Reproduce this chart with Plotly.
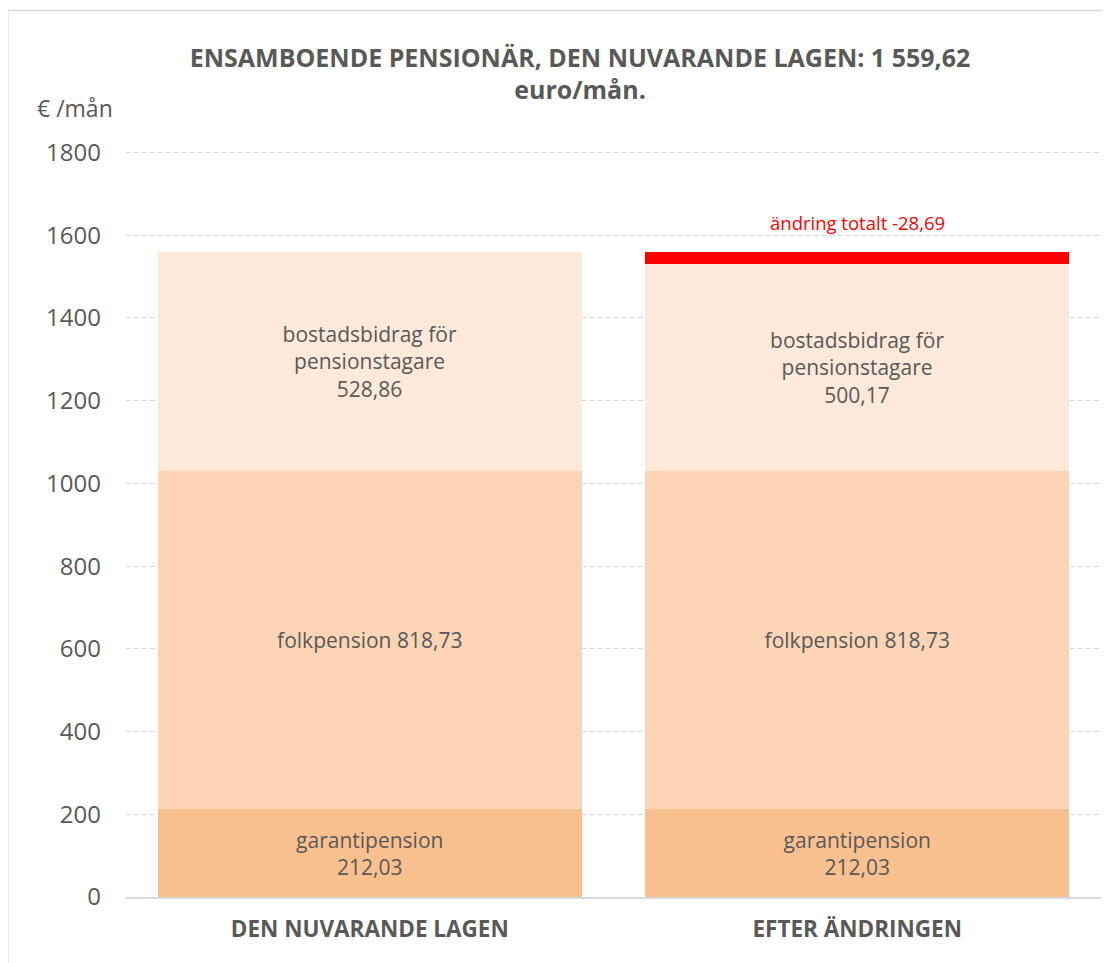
import plotly.graph_objects as go

categories = ["DEN NUVARANDE LAGEN", "EFTER ÄNDRINGEN"]
garantipension = [212.03, 212.03]
folkpension = [818.73, 818.73]
bostadsbidrag = [528.86, 500.17]
andring = [0, 28.69]
y_ticks = [0, 200, 400, 600, 800, 1000, 1200, 1400, 1600, 1800]

def fmt(v):
    return f"{v:.2f}".replace(".", ",")

FONT = "Open Sans"
TXT = "#595959"

fig = go.Figure()
fig.add_bar(x=categories, y=garantipension, marker_color="#F9C08F", name="garantipension",
            text=[f"garantipension<br>{fmt(v)}" for v in garantipension])
fig.add_bar(x=categories, y=folkpension, marker_color="#FBD5B5", name="folkpension",
            text=[f"folkpension {fmt(v)}" for v in folkpension])
fig.add_bar(x=categories, y=bostadsbidrag, marker_color="#FCE9DA", name="bostadsbidrag",
            text=[f"bostadsbidrag för<br>pensionstagare<br>{fmt(v)}" for v in bostadsbidrag])
fig.add_bar(x=categories, y=andring, marker_color="#FF0000", name="ändring", text=["", ""])

fig.update_traces(textposition="inside", insidetextanchor="middle",
                  textfont=dict(family=FONT, size=21, color=TXT),
                  marker_line_width=0, hoverinfo="skip", cliponaxis=False)

fig.add_annotation(x=categories[1], y=1631, text=f"ändring totalt -{fmt(andring[1])}",
                   showarrow=False, font=dict(family=FONT, size=18.5, color="#FF0000"),
                   yanchor="middle")

Y_MAX = 1806
PLOT_H = 745 * Y_MAX / 1800
TOP = 889 - PLOT_H

def py(fig_y):
    return (889 - fig_y) / PLOT_H

fig.add_annotation(xref="paper", yref="paper", x=-0.0526, y=py(99), text="€ /mån",
                   showarrow=False, font=dict(family=FONT, size=23, color=TXT),
                   xanchor="center", yanchor="middle")

# chart border (left and top)
fig.add_shape(type="line", xref="paper", yref="paper", x0=-0.1213, x1=-0.1213, y0=-0.2, y1=py(2),
              line=dict(color="#D9D9D9", width=1.5), layer="below")
fig.add_shape(type="line", xref="paper", yref="paper", x0=-0.1213, x1=1.05, y0=py(2), y1=py(2),
              line=dict(color="#D9D9D9", width=1.5), layer="below")

fig.update_layout(
    barmode="stack",
    bargap=0.13,
    width=1102, height=955,
    margin=dict(l=118, r=9, t=TOP, b=66),
    paper_bgcolor="white", plot_bgcolor="white",
    showlegend=False,
    title=dict(text="<b>ENSAMBOENDE PENSIONÄR, DEN NUVARANDE LAGEN: 1 559,62<br>euro/mån.</b>",
               x=572/1102, xanchor="center", xref="container", y=1 - 58.5/955, yanchor="middle",
               font=dict(family=FONT, size=25, color=TXT)),
)
fig.update_yaxes(range=[0, Y_MAX], tickvals=y_ticks, showgrid=True, gridcolor="#D9D9D9",
                 griddash="5px,3px", gridwidth=1, zeroline=False, showline=False,
                 tickfont=dict(family=FONT, size=24, color=TXT), ticks="", ticklabelstandoff=24)
fig.update_xaxes(showline=True, linecolor="#D9D9D9", linewidth=2, ticks="",
                 tickfont=dict(family=FONT, size=22.5, color=TXT), ticklabelstandoff=11,
                 tickvals=categories, ticktext=[f"<b>{c}</b>" for c in categories])

fig.write_html("out.html")
